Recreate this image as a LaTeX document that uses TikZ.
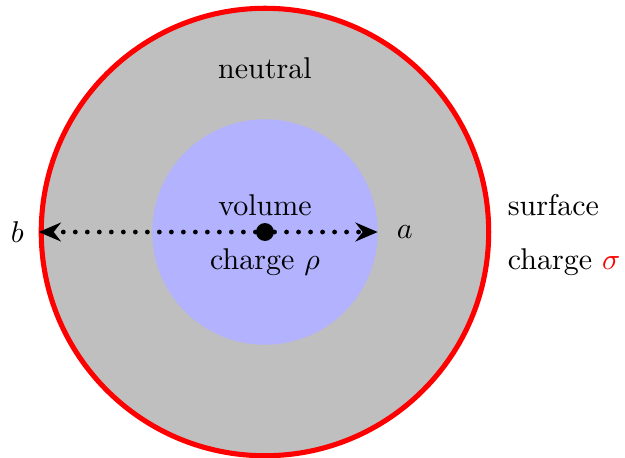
\documentclass[tikz,border=0pt]{standalone}
\usepackage{amsmath}
\usepackage{tikz}
\usetikzlibrary{arrows.meta,positioning}
\tikzset{
  shellfill/.style={fill=lightgray},
  corefill/.style={fill=blue!30},
  surfline/.style={draw=red,line width=1.7pt},
  radarrow/.style={-{Stealth[length=2.6mm,width=2.2mm]},dash pattern=on 0pt off 4pt,line cap=round,ultra thick},
  centredot/.style={circle,fill=black,minimum size=2.1mm,inner sep=0pt}
}

\begin{document}
\begin{tikzpicture}
\useasboundingbox (-3.103,-2.635) rectangle (4.216,2.717);
\fill[shellfill] (0,0) circle (2.62);
\fill[corefill] (0,0) circle (1.32);
\draw[surfline] (0,0) circle (2.62);
\node[centredot] (ctr) at (0,0) {};
\coordinate (rin) at (1.32,0);
\coordinate (rout) at (-2.65,0);
\draw[radarrow] (ctr) -- (rin);
\draw[radarrow] (ctr) -- (rout);
\node[right=0.1 of rin] (alab) {$a$};
\node[left=0.05 of rout] (blab) {$b$};
\node (neut) at (0,1.92) {neutral};
\node (vol) at (0,0.316) {volume};
\node (rho) at (0,-0.35) {charge $\rho$};
\node[anchor=west] (surf) at (2.72,0.316) {surface};
\node[anchor=west] (sig) at (2.72,-0.35) {charge \textcolor{red}{$\sigma$}};
\end{tikzpicture}
\end{document}
